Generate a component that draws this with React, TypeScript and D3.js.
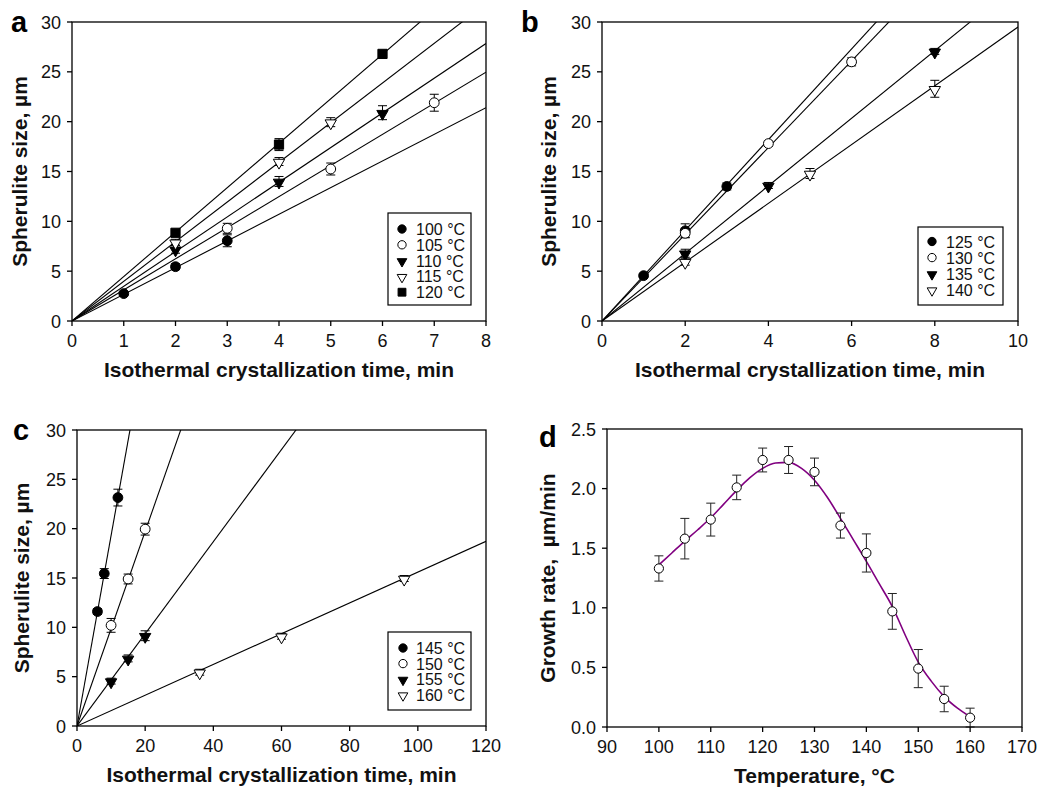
import React from "react";
import * as d3 from "d3";

const FONT = "'Liberation Sans', Arial, Helvetica, sans-serif";

// ---------- Panel a ----------
const aLabels = ["100 °C", "105 °C", "110 °C", "115 °C", "120 °C"];
const aSymbols = ["circleFilled", "circleOpen", "triFilled", "triOpen", "squareFilled"];
const aSlopes = [2.675, 3.12, 3.48, 3.98, 4.46];
const aTimes = [[1, 2, 3], [3, 5, 7], [2, 4, 6], [2, 4, 5], [2, 4, 6]];
const aSizes = [[2.75, 5.45, 8.05], [9.3, 15.25, 21.9], [7.2, 14.0, 20.9], [7.9, 16.0, 19.95], [8.85, 17.7, 26.8]];
const aErrors = [[0.2, 0.3, 0.6], [0.5, 0.6, 0.85], [0.4, 0.5, 0.7], [0.3, 0.4, 0.45], [0.3, 0.6, 0.3]];
const aXTicks = [0, 1, 2, 3, 4, 5, 6, 7, 8];

// ---------- Panel b ----------
const bLabels = ["125 °C", "130 °C", "135 °C", "140 °C"];
const bSymbols = ["circleFilled", "circleOpen", "triFilled", "triOpen"];
const bSlopes = [4.55, 4.35, 3.39, 2.95];
const bTimes = [[1, 2, 3], [2, 4, 6], [2, 4, 8], [2, 5, 8]];
const bSizes = [[4.55, 9.05, 13.5], [8.8, 17.8, 26.0], [6.8, 13.6, 27.05], [5.95, 14.8, 23.3]];
const bErrors = [[0.2, 0.7, 0.35], [0.4, 0.25, 0.4], [0.4, 0.3, 0.3], [0.35, 0.5, 0.85]];
const bXTicks = [0, 2, 4, 6, 8, 10];

// ---------- Panel c ----------
const cLabels = ["145 °C", "150 °C", "155 °C", "160 °C"];
const cSymbols = ["circleFilled", "circleOpen", "triFilled", "triOpen"];
const cSlopes = [1.93, 0.986, 0.467, 0.156];
const cTimes = [[6, 8, 12], [10, 15, 20], [10, 15, 20], [36, 60, 96]];
const cSizes = [[11.6, 15.45, 23.15], [10.2, 14.9, 19.95], [4.55, 6.85, 9.15], [5.45, 9.1, 14.95]];
const cErrors = [[0.3, 0.5, 0.85], [0.7, 0.5, 0.6], [0.3, 0.35, 0.5], [0.3, 0.3, 0.3]];
const cXTicks = [0, 20, 40, 60, 80, 100, 120];

const sizeYTicks = [0, 5, 10, 15, 20, 25, 30];

// ---------- Panel d ----------
const dTemps = [100, 105, 110, 115, 120, 125, 130, 135, 140, 145, 150, 155, 160];
const dRates = [1.33, 1.58, 1.74, 2.01, 2.24, 2.24, 2.14, 1.69, 1.46, 0.97, 0.49, 0.235, 0.078];
const dErrors = [0.106, 0.17, 0.138, 0.103, 0.1, 0.113, 0.116, 0.105, 0.16, 0.15, 0.16, 0.107, 0.08];
const dFitTemps = [100, 102.5, 105, 107.5, 110, 112.5, 115, 117.5, 120, 122.5, 125, 127.5, 130, 132.5, 135, 137.5, 140, 142.5, 145, 147.5, 150, 152.5, 155, 157.5, 160];
const dFitRates = [1.36, 1.46, 1.56, 1.655, 1.755, 1.87, 1.985, 2.09, 2.17, 2.215, 2.22, 2.17, 2.07, 1.925, 1.75, 1.57, 1.39, 1.2, 1.01, 0.77, 0.545, 0.385, 0.255, 0.16, 0.086];
const dXTicks = [90, 100, 110, 120, 130, 140, 150, 160, 170];
const dYTicks = [0, 0.5, 1.0, 1.5, 2.0, 2.5];

type Box = { left: number; right: number; top: number; bottom: number };

function Marker({ type, x, y, k = 1 }: { type: string; x: number; y: number; k?: number }) {
  const filled = type.endsWith("Filled");
  const fill = filled ? "#000" : "#fff";
  if (type.startsWith("circle")) {
    return <circle cx={x} cy={y} r={4.9 * k} fill={fill} stroke="#000" strokeWidth={1} />;
  }
  if (type.startsWith("tri")) {
    const p = d3.symbol().type(d3.symbolTriangle).size(56 * k * k)() as string;
    return <path d={p} transform={`translate(${x},${y + 1 * k}) rotate(180)`} fill={fill} stroke="#000" strokeWidth={1} />;
  }
  const p = d3.symbol().type(d3.symbolSquare).size(85 * k * k)() as string;
  return <path d={p} transform={`translate(${x},${y})`} fill={fill} stroke="#000" strokeWidth={1} />;
}

function Frame({ box, xScale, yScale, xTicks, yTicks, yFmt, xTitle, yTitle, yTitleX, letter, letterX, letterY }: any) {
  const { left, right, top, bottom } = box;
  return (
    <g fontFamily={FONT}>
      <rect x={left} y={top} width={right - left} height={bottom - top} fill="none" stroke="#000" strokeWidth={1.3} />
      {xTicks.map((t: number) => (
        <g key={"x" + t}>
          <line x1={xScale(t)} x2={xScale(t)} y1={bottom} y2={bottom + 5} stroke="#000" strokeWidth={1.3} />
          <text x={xScale(t)} y={bottom + 26} textAnchor="middle" fontSize={18} fill="#111">{t}</text>
        </g>
      ))}
      {yTicks.map((t: number) => (
        <g key={"y" + t}>
          <line x1={left - 5} x2={left} y1={yScale(t)} y2={yScale(t)} stroke="#000" strokeWidth={1.3} />
          <text x={left - 11} y={yScale(t) + 6.5} textAnchor="end" fontSize={18} fill="#111">{yFmt(t)}</text>
        </g>
      ))}
      <text x={(left + right) / 2} y={bottom + 56} textAnchor="middle" fontSize={21} fontWeight="bold" fill="#111">{xTitle}</text>
      <text transform={`translate(${yTitleX},${(top + bottom) / 2}) rotate(-90)`} textAnchor="middle" fontSize={21} fontWeight="bold" fill="#111" style={{ whiteSpace: "pre" }}>{yTitle}</text>
      <text x={letterX} y={letterY} fontSize={29} fontWeight="bold" fill="#000">{letter}</text>
    </g>
  );
}

function SizePanel({ id, box, xMax, xTicks, labels, symbols, slopes, times, sizes, errors, legend, yTitleX, letter, letterX, letterY }: any) {
  const x = d3.scaleLinear().domain([0, xMax]).range([box.left, box.right]);
  const y = d3.scaleLinear().domain([0, 30]).range([box.bottom, box.top]);
  const line = d3.line<[number, number]>().x((d) => x(d[0])).y((d) => y(d[1]));
  return (
    <g>
      <defs>
        <clipPath id={"clip" + id}>
          <rect x={box.left} y={box.top} width={box.right - box.left} height={box.bottom - box.top} />
        </clipPath>
      </defs>
      <g clipPath={`url(#clip${id})`}>
        {slopes.map((s: number, i: number) => (
          <path key={i} d={line([[0, 0], [xMax, s * xMax]]) as string} fill="none" stroke="#000" strokeWidth={1.1} />
        ))}
      </g>
      {times.map((ts: number[], i: number) =>
        ts.map((t, j) => {
          const cx = x(t);
          const y1 = y(sizes[i][j] + errors[i][j]);
          const y2 = y(sizes[i][j] - errors[i][j]);
          return (
            <g key={i + "-" + j} stroke="#000" strokeWidth={1}>
              <line x1={cx} x2={cx} y1={y1} y2={y2} />
              <line x1={cx - 4.5} x2={cx + 4.5} y1={y1} y2={y1} />
              <line x1={cx - 4.5} x2={cx + 4.5} y1={y2} y2={y2} />
            </g>
          );
        })
      )}
      {times.map((ts: number[], i: number) =>
        ts.map((t, j) => <Marker key={"m" + i + "-" + j} type={symbols[i]} x={x(t)} y={y(sizes[i][j])} />)
      )}
      <Frame box={box} xScale={x} yScale={y} xTicks={xTicks} yTicks={sizeYTicks} yFmt={(v: number) => String(v)}
        xTitle="Isothermal crystallization time, min" yTitle="Spherulite size, µm" yTitleX={yTitleX}
        letter={letter} letterX={letterX} letterY={letterY} />
      <g fontFamily={FONT}>
        <rect x={legend.x} y={legend.y} width={legend.w} height={legend.h} fill="#fff" stroke="#000" strokeWidth={1.2} />
        {labels.map((lab: string, i: number) => {
          const ry = legend.y + legend.first + i * legend.step;
          return (
            <g key={lab}>
              <Marker type={symbols[i]} x={legend.x + legend.sym} y={ry} k={0.85} />
              <text x={legend.x + legend.text} y={ry + 6} fontSize={16} fill="#111">{lab}</text>
            </g>
          );
        })}
      </g>
    </g>
  );
}

function RatePanel() {
  const box = { left: 607, right: 1022, top: 429, bottom: 727 };
  const x = d3.scaleLinear().domain([90, 170]).range([box.left, box.right]);
  const y = d3.scaleLinear().domain([0, 2.5]).range([box.bottom, box.top]);
  const fit = d3.line<number>().x((d, i) => x(dFitTemps[i])).y((d) => y(d)).curve(d3.curveMonotoneX);
  return (
    <g>
      <path d={fit(dFitRates) as string} fill="none" stroke="#800080" strokeWidth={1.6} />
      {dTemps.map((t, i) => {
        const cx = x(t);
        const y1 = y(dRates[i] + dErrors[i]);
        const y2 = Math.min(box.bottom, y(dRates[i] - dErrors[i]));
        return (
          <g key={"e" + t} stroke="#222" strokeWidth={1}>
            <line x1={cx} x2={cx} y1={y1} y2={y2} />
            <line x1={cx - 4.5} x2={cx + 4.5} y1={y1} y2={y1} />
            <line x1={cx - 4.5} x2={cx + 4.5} y1={y2} y2={y2} />
          </g>
        );
      })}
      {dTemps.map((t, i) => (
        <circle key={"c" + t} cx={x(t)} cy={y(dRates[i])} r={4.6} fill="#fff" stroke="#000" strokeWidth={1} />
      ))}
      <Frame box={box} xScale={x} yScale={y} xTicks={dXTicks} yTicks={dYTicks} yFmt={d3.format(".1f")}
        xTitle="Temperature, °C" yTitle="Growth rate,  µm/min" yTitleX={555}
        letter="d" letterX={539} letterY={447} />
    </g>
  );
}

export default function App() {
  return (
    <svg width={1038} height={787} style={{ display: "block", position: "absolute", left: 0, top: 0 }}>
      <rect width={1038} height={787} fill="#fff" />
      <SizePanel id="a" box={{ left: 72, right: 486, top: 22, bottom: 321 }} xMax={8} xTicks={aXTicks}
        labels={aLabels} symbols={aSymbols} slopes={aSlopes} times={aTimes} sizes={aSizes} errors={aErrors}
        legend={{ x: 388, y: 213, w: 83, h: 92, first: 16, step: 15.8, sym: 14, text: 28 }}
        yTitleX={27} letter="a" letterX={11} letterY={32} />
      <SizePanel id="b" box={{ left: 602, right: 1018, top: 22, bottom: 321 }} xMax={10} xTicks={bXTicks}
        labels={bLabels} symbols={bSymbols} slopes={bSlopes} times={bTimes} sizes={bSizes} errors={bErrors}
        legend={{ x: 918, y: 227, w: 85, h: 78, first: 14.5, step: 16.1, sym: 14, text: 28 }}
        yTitleX={556} letter="b" letterX={521} letterY={32} />
      <SizePanel id="c" box={{ left: 77, right: 486, top: 430, bottom: 726 }} xMax={120} xTicks={cXTicks}
        labels={cLabels} symbols={cSymbols} slopes={cSlopes} times={cTimes} sizes={cSizes} errors={cErrors}
        legend={{ x: 388, y: 632, w: 83, h: 78, first: 16, step: 15.6, sym: 15, text: 28 }}
        yTitleX={29} letter="c" letterX={13} letterY={440} />
      <RatePanel />
    </svg>
  );
}
